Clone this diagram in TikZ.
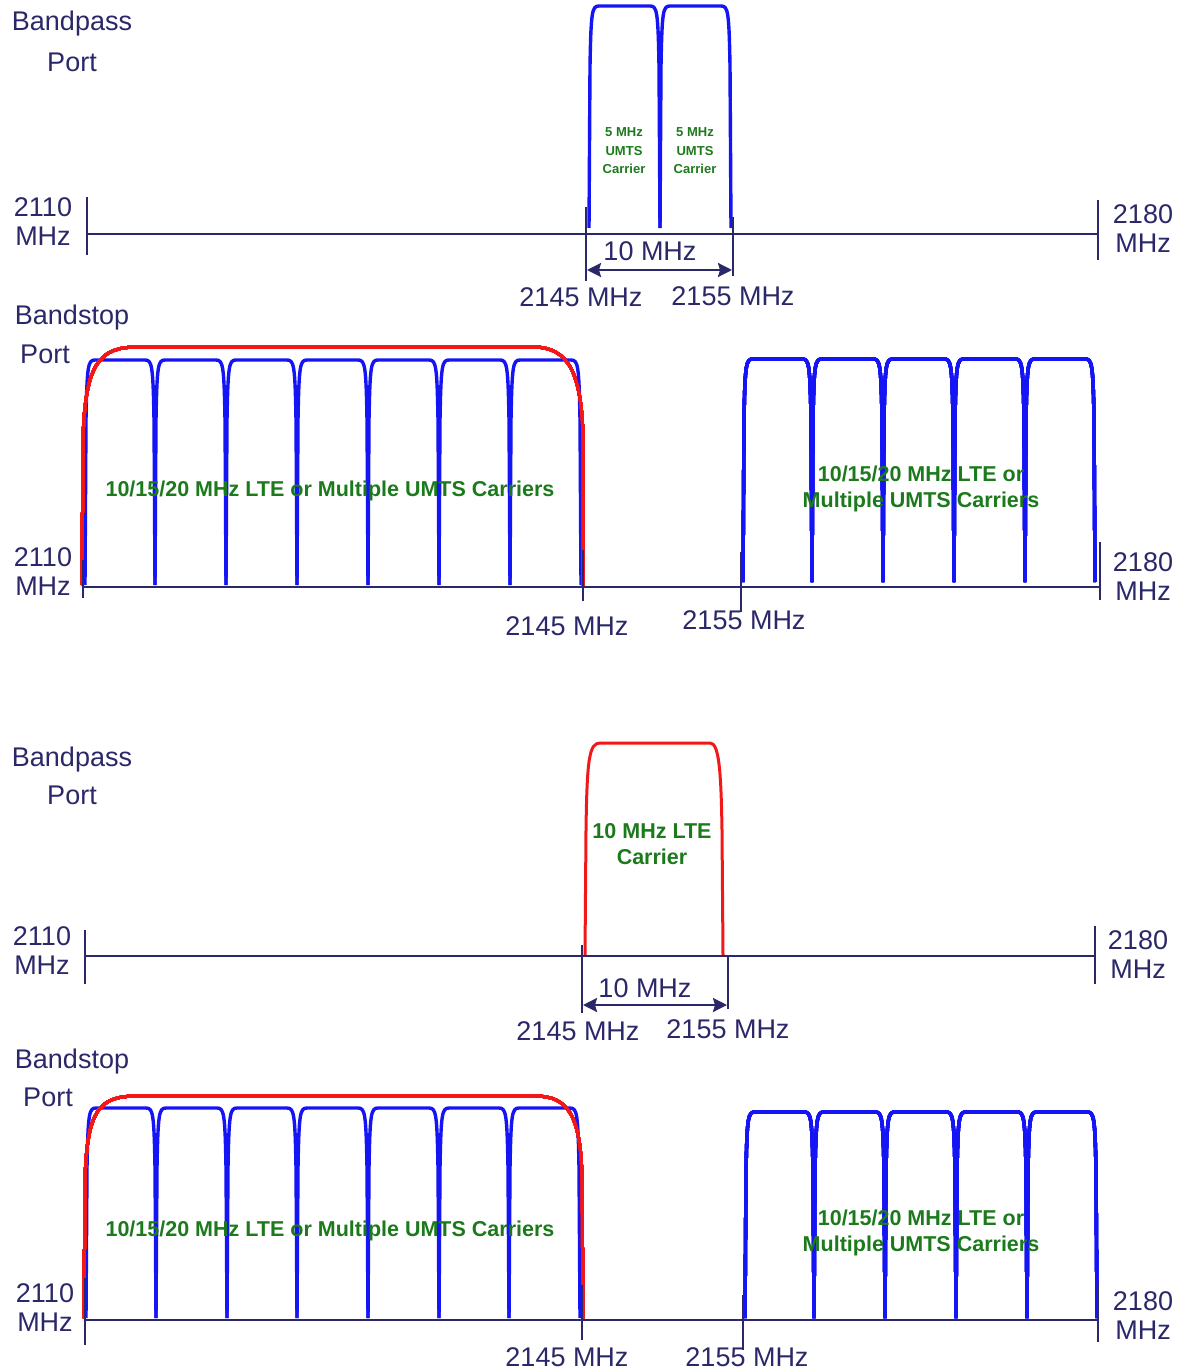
\documentclass[tikz,border=0pt]{standalone}
\usepackage{fontspec}
\setmainfont{Liberation Sans}
\usetikzlibrary{arrows.meta,positioning}

\definecolor{navy}{HTML}{2A2868}
\definecolor{carrblue}{HTML}{1414F5}
\definecolor{carrgreen}{HTML}{1C7A1C}
\definecolor{envred}{HTML}{F21818}

% one carrier: left edge, right edge, top row, bottom row
\newcommand{\carrier}[4]{%
  \draw[carr] (#1,#4) -- (#1+1,#3+60) .. controls (#1+2,#3+5) and (#1+3,#3) .. (#1+10,#3)
    -- (#2-10,#3) .. controls (#2-3,#3) and (#2-2,#3+5) .. (#2-1,#3+60) -- (#2,#4);}

\begin{document}
\begin{tikzpicture}[
  x=1pt, y=-1pt,
  lbl/.style={text=navy, font=\fontsize{27}{29}\selectfont, align=center, inner sep=0pt},
  note/.style={text=carrgreen, font=\bfseries\fontsize{21.5}{26}\selectfont, align=center, inner sep=0pt},
  tiny/.style={text=carrgreen, font=\bfseries\fontsize{13}{18.5}\selectfont, align=center, inner sep=0pt},
  axisln/.style={draw=navy, line width=2.4pt},
  carr/.style={draw=carrblue, line width=3.4pt, line join=round},
  env/.style={draw=envred, line width=3pt, line join=round},
  dim/.style={draw=navy, line width=2.4pt, {Stealth[length=14pt,width=14pt,inset=2pt]}-{Stealth[length=14pt,width=14pt,inset=2pt]}},
]
\useasboundingbox (0,0) rectangle (1191,1372);

%% ---- bandpass port, UMTS ----
\node[lbl] (bp1) at (72,24) {Bandpass};
\node[lbl] (bp1p) at (72,62) {Port};
\carrier{589}{660}{6}{228}
\carrier{660}{731}{6}{228}
\draw[axisln] (87,234) -- (1098,234);
\draw[axisln] (87,197) -- (87,255);
\draw[axisln] (1098,200) -- (1098,260);
\draw[axisln] (586,207) -- (586,281);
\draw[axisln] (733,217) -- (733,276);
\node[lbl] (lo1) at (43,222) {2110\\MHz};
\node[lbl] (hi1) at (1143,229) {2180\\MHz};
\node[tiny] (u1) at (624,151) {5 MHz\\UMTS\\Carrier};
\node[tiny] (u2) at (695,151) {5 MHz\\UMTS\\Carrier};
\coordinate (d1l) at (587,270);
\coordinate (d1r) at (732,270);
\draw[dim] (d1l) -- (d1r);
\node[lbl] (w1) at (650,251) {10 MHz};
\node[lbl] (f1a) at (581,297) {2145 MHz};
\node[lbl] (f1b) at (733,296) {2155 MHz};

%% ---- bandstop port, UMTS ----
\node[lbl] (bs1) at (72,318) {Bandstop};
\node[lbl] (bs1p) at (45,354) {Port};
\foreach \a/\b in {85/155,155/226,226/297,297/368,368/439,439/510,510/581}
  \carrier{\a}{\b}{360}{585}
\foreach \a/\b in {743/812,812/883,883/954,954/1025,1025/1095}
  \carrier{\a}{\b}{359}{582}
\draw[env] (82,585) -- (83,440) .. controls (85,362) and (100,347) .. (138,347)
  -- (533,347) .. controls (568,347) and (582,372) .. (583,440) -- (583,585);
\draw[axisln] (83,587) -- (1100,587);
\draw[axisln] (83,560) -- (83,598);
\draw[axisln] (1100,542) -- (1100,600);
\draw[axisln] (583,550) -- (583,601);
\draw[axisln] (741,552) -- (741,612);
\node[lbl] (lo2) at (43,572) {2110\\MHz};
\node[lbl] (hi2) at (1143,577) {2180\\MHz};
\node[note] (g1) at (330,491) {10/15/20 MHz LTE or Multiple UMTS Carriers};
\node[note] (g2) at (921,489) {10/15/20 MHz LTE or\\Multiple UMTS Carriers};
\node[lbl] (f2a) at (567,626) {2145 MHz};
\node[lbl] (f2b) at (744,620) {2155 MHz};

%% ---- bandpass port, LTE ----
\node[lbl] (bp2) at (72,760) {Bandpass};
\node[lbl] (bp2p) at (72,795) {Port};
\draw[env] (585,955) -- (586,830) .. controls (587,760) and (589,743) .. (600,743)
  -- (710,743) .. controls (719,743) and (721,770) .. (722,830) -- (723,955);
\draw[axisln] (85,956) -- (1095,956);
\draw[axisln] (85,930) -- (85,984);
\draw[axisln] (1095,926) -- (1095,984);
\draw[axisln] (582,945) -- (582,1013);
\draw[axisln] (728,956) -- (728,1009);
\node[lbl] (lo3) at (42,951) {2110\\MHz};
\node[lbl] (hi3) at (1138,955) {2180\\MHz};
\node[note] (g3) at (652,844) {10 MHz LTE\\Carrier};
\coordinate (d2l) at (583,1005);
\coordinate (d2r) at (727,1005);
\draw[dim] (d2l) -- (d2r);
\node[lbl] (w2) at (645,988) {10 MHz};
\node[lbl] (f3a) at (578,1031) {2145 MHz};
\node[lbl] (f3b) at (728,1029) {2155 MHz};

%% ---- bandstop port, LTE ----
\node[lbl] (bs2) at (72,1062) {Bandstop};
\node[lbl] (bs2p) at (48,1097) {Port};
\foreach \a/\b in {86/156,156/227,227/297,297/368,368/439,439/509,509/580}
  \carrier{\a}{\b}{1108}{1318}
\foreach \a/\b in {745/814,814/885,885/956,956/1027,1027/1097}
  \carrier{\a}{\b}{1112}{1318}
\draw[env] (84,1318) -- (85,1180) .. controls (87,1108) and (100,1096) .. (138,1096)
  -- (535,1096) .. controls (568,1096) and (581,1115) .. (582,1180) -- (583,1318);
\draw[axisln] (85,1320) -- (1098,1320);
\draw[axisln] (85,1278) -- (85,1345);
\draw[axisln] (1098,1283) -- (1098,1342);
\draw[axisln] (582,1285) -- (582,1340);
\draw[axisln] (743,1295) -- (743,1350);
\node[lbl] (lo4) at (45,1308) {2110\\MHz};
\node[lbl] (hi4) at (1143,1316) {2180\\MHz};
\node[note] (g4) at (330,1231) {10/15/20 MHz LTE or Multiple UMTS Carriers};
\node[note] (g5) at (921,1233) {10/15/20 MHz LTE or\\Multiple UMTS Carriers};
\node[lbl] (f4a) at (567,1357) {2145 MHz};
\node[lbl] (f4b) at (747,1357) {2155 MHz};
\end{tikzpicture}
\end{document}
